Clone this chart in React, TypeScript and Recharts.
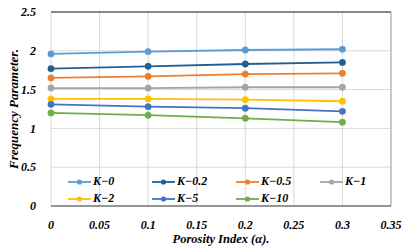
import React from 'react';
import { LineChart, Line, XAxis, YAxis, CartesianGrid, ReferenceLine, Label } from 'recharts';

// porosity index values where the curves were sampled
const porosity = [0, 0.1, 0.2, 0.3];

const k0 = [1.96, 1.99, 2.01, 2.02];
const k02 = [1.77, 1.8, 1.83, 1.85];
const k05 = [1.65, 1.67, 1.7, 1.71];
const k1 = [1.52, 1.52, 1.53, 1.53];
const k2 = [1.38, 1.38, 1.37, 1.35];
const k5 = [1.31, 1.28, 1.26, 1.22];
const k10 = [1.2, 1.17, 1.13, 1.08];

const xTicks = [0, 0.05, 0.1, 0.15, 0.2, 0.25, 0.3, 0.35];
const yTicks = [0, 0.5, 1, 1.5, 2, 2.5];

const series = [
  { key: 'k0', name: 'K\u22120', values: k0, color: '#5B9BD5' },
  { key: 'k02', name: 'K\u22120.2', values: k02, color: '#255E91' },
  { key: 'k05', name: 'K\u22120.5', values: k05, color: '#ED7D31' },
  { key: 'k1', name: 'K\u22121', values: k1, color: '#A5A5A5' },
  { key: 'k2', name: 'K\u22122', values: k2, color: '#FFC000' },
  { key: 'k5', name: 'K\u22125', values: k5, color: '#4472C4' },
  { key: 'k10', name: 'K\u221210', values: k10, color: '#70AD47' },
];

const font = '"Liberation Serif", "Times New Roman", serif';
const tickStyle = { fontFamily: font, fontSize: 12, fontWeight: 'bold', fontStyle: 'italic', fill: '#000' };

const App: React.FC = () => {
  const data = porosity.map((p, i) => {
    const row: { [k: string]: number } = { porosity: p };
    series.forEach(s => { row[s.key] = s.values[i]; });
    return row;
  });

  return (
    <div style={{ position: 'absolute', left: 0, top: 0, width: 408, height: 249, background: '#fff' }}>
      <LineChart width={408} height={249} data={data} margin={{ top: 12, right: 17, bottom: 0, left: 0 }}>
        <CartesianGrid stroke="#d9d9d9" strokeWidth={1} />
        <XAxis
          dataKey="porosity"
          type="number"
          domain={[0, 0.35]}
          ticks={xTicks}
          height={43}
          tick={tickStyle}
          tickLine={false}
          tickMargin={8}
          axisLine={{ stroke: '#404040', strokeWidth: 1.2 }}
        >
          <Label value="Porosity Index (α)." position="insideBottom" offset={6} style={{ ...tickStyle, fontSize: 12.5 }} />
        </XAxis>
        <YAxis
          type="number"
          domain={[0, 2.5]}
          ticks={yTicks}
          width={51}
          tick={tickStyle}
          tickLine={false}
          axisLine={false}
          tickMargin={9}
        >
          <Label value="Frequency Parameter." angle={-90} position="insideLeft" offset={13} style={{ ...tickStyle, fontSize: 13, textAnchor: 'middle' }} />
        </YAxis>
        <ReferenceLine y={2.5} stroke="#222" strokeWidth={1.2} />
        <ReferenceLine x={0.35} stroke="#a6a6a6" strokeWidth={1} />
        {series.map(s => (
          <Line
            key={s.key}
            type="linear"
            dataKey={s.key}
            name={s.name}
            stroke={s.color}
            strokeWidth={1.8}
            dot={{ r: 3.2, fill: s.color, stroke: s.color, strokeWidth: 0.5 }}
            isAnimationActive={false}
          />
        ))}
      </LineChart>

      {/* legend sits inside the plot, 4 per row */}
      <div style={{ position: 'absolute', left: 68, top: 173, display: 'grid', gridTemplateColumns: 'repeat(4, 84px)', rowGap: 0 }}>
        {series.map(s => (
          <div key={s.key} style={{ display: 'flex', alignItems: 'center', height: 17 }}>
            <svg width={23} height={10} style={{ flex: 'none' }}>
              <line x1={0} y1={5} x2={23} y2={5} stroke={s.color} strokeWidth={1.8} />
              <circle cx={11.5} cy={5} r={2.6} fill={s.color} />
            </svg>
            <span style={{ fontFamily: font, fontSize: 12, fontWeight: 'bold', fontStyle: 'italic', marginLeft: 2, color: '#000' }}>
              {s.name}
            </span>
          </div>
        ))}
      </div>
    </div>
  );
};

export default App;
